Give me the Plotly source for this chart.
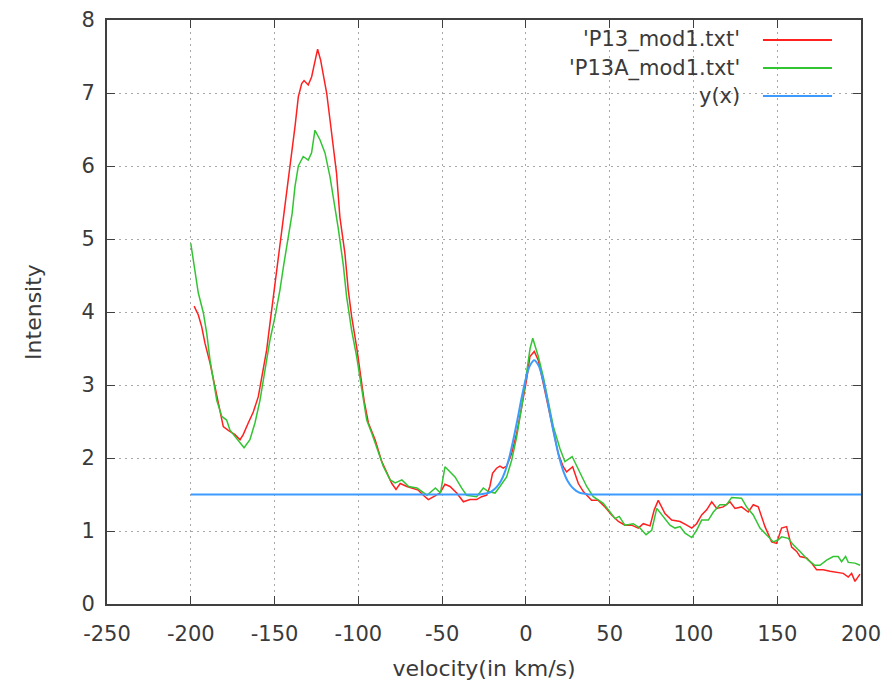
import plotly.graph_objects as go

# ---- data ----
p13_x = [-198, -195.5, -193.5, -191.5, -188.5, -186.5, -184.5, -182.5, -180.6, -177.6, -173.6, -170.6,
         -168.7, -165.7, -162.7, -159.7, -157.7, -154.7, -152.7, -150.7, -148, -145.8, -142.8, -140.8,
         -137.8, -135.8, -133.8, -132.4, -129.9, -127.9, -125.9, -124.3, -122.5, -120.9, -118.9, -116.9,
         -115, -113, -111, -108, -106, -104, -101, -98.5, -96.5, -94, -90, -86, -82, -80, -77.5, -75,
         -71, -67, -64.2, -61.2, -58.2, -54.2, -51.3, -48.3, -45.3, -41.3, -37.3, -33.4, -29.4, -26.4,
         -23.4, -21.5, -19.9, -17.5, -15.5, -13.5, -11.5, -8.5, -5.5, -2.5, 0.4, 2.4, 5, 7.4, 10.4,
         13.4, 16.4, 19.3, 22.3, 24.3, 27.9, 31.3, 34.3, 39.2, 43.2, 47.2, 51.2, 55.2, 59.1, 63.1, 67.1,
         70.1, 74.1, 76.6, 79, 83, 87, 92, 96, 99, 101.9, 104.9, 107.9, 110.9, 113.9, 117.8, 121.8,
         124.8, 128.7, 132.7, 135.7, 138.7, 142.7, 146.7, 149.6, 152.6, 155.6, 158.6, 161.6, 163.6,
         167.6, 170.5, 173.5, 177.5, 181.5, 185.5, 189.4, 192.4, 194.4, 196.4, 199.4]
p13_y = [4.08, 3.96, 3.80, 3.57, 3.30, 3.07, 2.84, 2.61, 2.43, 2.38, 2.32, 2.25,
         2.32, 2.48, 2.63, 2.84, 3.11, 3.48, 3.85, 4.21, 4.67, 5.12, 5.62, 5.99,
         6.54, 6.95, 7.13, 7.17, 7.11, 7.22, 7.45, 7.60, 7.45, 7.27, 7.00, 6.63,
         6.26, 5.90, 5.30, 4.80, 4.30, 3.94, 3.52, 3.10, 2.78, 2.48, 2.25, 1.95, 1.74, 1.65, 1.57, 1.65,
         1.61, 1.58, 1.56, 1.49, 1.43, 1.48, 1.52, 1.64, 1.61, 1.52, 1.40, 1.43, 1.43, 1.47,
         1.49, 1.61, 1.79, 1.86, 1.89, 1.86, 1.89, 2.06, 2.34, 2.70, 3.07, 3.39, 3.46, 3.34, 3.02,
         2.66, 2.34, 2.06, 1.88, 1.81, 1.88, 1.65, 1.54, 1.42, 1.42, 1.33, 1.22, 1.13, 1.08, 1.08, 1.04,
         1.10, 1.07, 1.29, 1.42, 1.24, 1.15, 1.13, 1.08, 1.04, 1.10, 1.22, 1.29, 1.40, 1.31, 1.33, 1.40,
         1.31, 1.33, 1.26, 1.36, 1.33, 1.06, 0.85, 0.83, 1.04, 1.06, 0.78, 0.72, 0.65,
         0.63, 0.56, 0.47, 0.47, 0.45, 0.44, 0.42, 0.37, 0.42, 0.31, 0.41]

p13a_x = [-200, -197.5, -195.5, -192.5, -190.5, -188.5, -186.5, -184.5, -181.5, -178.6, -176.6, -173.6,
          -170.6, -168.2, -164.7, -161.7, -158.7, -155.7, -152.7, -149.7, -146.8, -144.5, -142.5, -140.5,
          -139.5, -137.8, -135.8, -132.9, -129.9, -127.9, -125.9, -122.9, -119.9, -116.9, -115, -112,
          -109, -107, -104, -101, -98, -95, -92, -89, -85, -81, -78, -74, -70, -65, -59, -54, -51,
          -48.3, -42.3, -38.4, -35.4, -29.4, -25.4, -22.4, -18.4, -15.5, -11.5, -8.5, -5.5, -2.5, 0.5,
          2.5, 4.1, 7.4, 10.4, 13.4, 16.4, 20.3, 23.3, 27.6, 31.3, 36.3, 40.2, 46.2, 50.2, 53.2, 55.7,
          59.1, 64.1, 68.1, 71.7, 75.1, 78.1, 82, 86, 89, 92, 95, 99, 101.9, 104.9, 108.9, 111.9,
          115.8, 119.8, 122.8, 128.7, 131.7, 135.7, 139.7, 143.7, 147.7, 150.6, 152.6, 156.6, 159.6,
          163.6, 168.5, 172.5, 175.5, 179.5, 183.4, 186.4, 188.4, 190.8, 192.4, 196.4, 199.4]
p13a_y = [4.94, 4.58, 4.26, 3.99, 3.71, 3.34, 3.03, 2.79, 2.57, 2.52, 2.38, 2.29,
          2.20, 2.14, 2.25, 2.48, 2.79, 3.20, 3.62, 3.94, 4.30, 4.65, 4.95, 5.20,
          5.35, 5.72, 6.00, 6.13, 6.08, 6.18, 6.49, 6.36, 6.18, 5.85, 5.58, 5.15,
          4.65, 4.21, 3.75, 3.39, 2.95, 2.52, 2.34, 2.13, 1.88, 1.70, 1.66, 1.70, 1.61, 1.59, 1.49, 1.59, 1.52,
          1.88, 1.74, 1.59, 1.49, 1.47, 1.59, 1.54, 1.52, 1.61, 1.74, 1.97, 2.29, 2.70, 3.20,
          3.50, 3.64, 3.39, 3.11, 2.79, 2.43, 2.13, 1.95, 2.02, 1.85, 1.61, 1.47, 1.38, 1.26, 1.17, 1.20,
          1.08, 1.10, 1.04, 0.95, 1.01, 1.31, 1.20, 1.08, 1.04, 1.06, 0.97, 0.91, 1.01, 1.15, 1.15, 1.26,
          1.36, 1.36, 1.46, 1.45, 1.33, 1.22, 1.04, 0.95, 0.85, 0.88, 0.92, 0.90, 0.81,
          0.72, 0.60, 0.53, 0.53, 0.60, 0.65, 0.65, 0.58, 0.65, 0.57, 0.56, 0.53]

fit_x = [-200, -30, -27.5, -25, -22.5, -20, -17.5, -15, -12.5, -10, -7.5, -5, -2.5, 0, 2.5, 5,
         7.5, 10, 12.5, 15, 17.5, 20, 22.5, 25, 27.5, 30, 32.5, 35, 37.5, 40, 200]
fit_y = [1.50, 1.50, 1.50, 1.51, 1.52, 1.55, 1.60, 1.68, 1.81, 2.00, 2.25, 2.53, 2.83, 3.09, 3.27, 3.34,
         3.27, 3.09, 2.83, 2.53, 2.25, 2.00, 1.81, 1.68, 1.60, 1.55, 1.52, 1.51, 1.50, 1.50, 1.50]

series_names = ["'P13_mod1.txt'", "'P13A_mod1.txt'", "y(x)"]
series_colors = ["#ff2020", "#33c433", "#3d9bff"]

x_ticks = [-250, -200, -150, -100, -50, 0, 50, 100, 150, 200]
x_tick_labels = ["-250", "-200", "-150", "-100", "-50", "0", "50", "100", "150", "200"]
y_ticks = [0, 1, 2, 3, 4, 5, 6, 7, 8]
y_tick_labels = ["0", "1", "2", "3", "4", "5", "6", "7", "8"]

FONT = "DejaVu Sans"
TXT = "#3a3a3a"

fig = go.Figure()
fig.add_trace(go.Scatter(x=p13_x, y=p13_y, mode="lines", name=series_names[0],
                         line=dict(color=series_colors[0], width=1.5)))
fig.add_trace(go.Scatter(x=p13a_x, y=p13a_y, mode="lines", name=series_names[1],
                         line=dict(color=series_colors[1], width=1.5)))
fig.add_trace(go.Scatter(x=fit_x, y=fit_y, mode="lines", name=series_names[2],
                         line=dict(color=series_colors[2], width=2, shape="spline")))

shapes = [
    # white key box hiding the grid behind the legend
    dict(type="rect", xref="paper", yref="paper", x0=0.541, x1=0.980, y0=0.853, y1=1.0,
         fillcolor="white", line=dict(width=0), layer="between"),
]
annotations = []
rows_y = [0.9658, 0.9178, 0.8699]
for name, color, ry in zip(series_names, series_colors, rows_y):
    shapes.append(dict(type="line", xref="paper", yref="paper", x0=0.870, x1=0.9615, y0=ry, y1=ry,
                       line=dict(color=color, width=2)))
    annotations.append(dict(xref="paper", yref="paper", x=0.842, y=ry, text=name, showarrow=False,
                            xanchor="right", yanchor="middle",
                            font=dict(family=FONT, size=21, color=TXT)))

grid = dict(showgrid=True, gridcolor="#a8a8a8", griddash="2px,4px", gridwidth=1)
axis_common = dict(showline=True, linecolor="#404040", linewidth=2, mirror="allticks",
                   ticks="inside", ticklen=8, tickwidth=1, tickcolor="#404040", automargin=False,
                   zeroline=False, tickfont=dict(family=FONT, size=21, color=TXT), **grid)

fig.update_layout(
    width=893, height=685,
    margin=dict(l=99, r=40, t=12, b=89),
    paper_bgcolor="white", plot_bgcolor="white",
    showlegend=False,
    shapes=shapes, annotations=annotations,
    xaxis=dict(range=[-250, 200], tickvals=x_ticks, ticktext=x_tick_labels, ticklabelstandoff=10,
               title=dict(text="velocity(in km/s)", font=dict(family=FONT, size=22, color=TXT), standoff=15),
               **axis_common),
    yaxis=dict(range=[0, 8], tickvals=y_ticks, ticktext=y_tick_labels, ticklabelstandoff=6,
               title=dict(text="Intensity", font=dict(family=FONT, size=22, color=TXT), standoff=34),
               **axis_common),
)

fig.write_html("out.html")
